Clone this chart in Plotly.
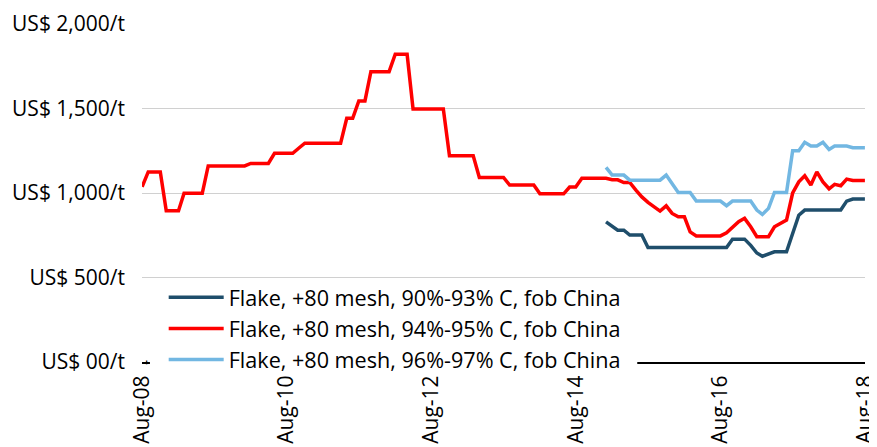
import pandas as pd
import plotly.graph_objects as go

# Monthly dates
dates_all = pd.date_range("2008-08-01", periods=121, freq="MS")
dates_late = pd.date_range("2015-01-01", periods=44, freq="MS")

red_94_95 = [
    1037, 1125, 1125, 1125, 895, 895, 895, 998, 998, 998,
    998, 1160, 1160, 1160, 1160, 1160, 1160, 1160, 1175, 1175,
    1175, 1175, 1235, 1235, 1235, 1235, 1265, 1295, 1295, 1295,
    1295, 1295, 1295, 1295, 1442, 1442, 1545, 1545, 1718, 1718,
    1718, 1718, 1821, 1821, 1821, 1497, 1497, 1497, 1497, 1497,
    1497, 1220, 1220, 1220, 1220, 1220, 1092, 1092, 1092, 1092,
    1092, 1047, 1047, 1047, 1047, 1047, 995, 995, 995, 995,
    995, 1035, 1035, 1087, 1087, 1087, 1087, 1087, 1078, 1078,
    1062, 1062, 1017, 977, 945, 918, 893, 924, 879, 859,
    859, 770, 746, 746, 746, 746, 746, 764, 800, 830,
    850, 800, 741, 741, 741, 800, 823, 840, 1000, 1066,
    1102, 1047, 1125, 1066, 1025, 1051, 1043, 1082, 1074, 1074, 1074,
]

blue_96_97 = [
    1152, 1106, 1106, 1106, 1076, 1076, 1076, 1076, 1076, 1076,
    1106, 1055, 1003, 1003, 1003, 952, 952, 952, 952, 952,
    925, 952, 952, 952, 952, 899, 873, 909, 1003, 1003,
    1003, 1250, 1250, 1300, 1278, 1278, 1300, 1258, 1278, 1278,
    1278, 1268, 1268, 1268,
]

navy_90_93 = [
    829, 805, 780, 780, 751, 751, 751, 678, 678, 678,
    678, 678, 678, 678, 678, 678, 678, 678, 678, 678,
    678, 727, 727, 727, 690, 645, 626, 640, 652, 652,
    652, 760, 869, 899, 899, 899, 899, 899, 899, 899,
    952, 964, 964, 964,
]

names = [
    "Flake, +80 mesh, 90%-93% C, fob China",
    "Flake, +80 mesh, 94%-95% C, fob China",
    "Flake, +80 mesh, 96%-97% C, fob China",
]
y_tickvals = [0, 500, 1000, 1500, 2000]
y_ticktext = ["US$ 00/t", "US$ 500/t", "US$ 1,000/t", "US$ 1,500/t", "US$ 2,000/t"]
x_tickvals = ["2008-08-01", "2010-08-01", "2012-08-01", "2014-08-01", "2016-08-01", "2018-08-01"]
x_ticktext = ["Aug-08", "Aug-10", "Aug-12", "Aug-14", "Aug-16", "Aug-18"]

FONT = "Open Sans"

fig = go.Figure()
fig.add_trace(go.Scatter(x=dates_late, y=navy_90_93, mode="lines", name=names[0],
                         line=dict(color="#1F4E6B", width=3.5)))
fig.add_trace(go.Scatter(x=dates_all, y=red_94_95, mode="lines", name=names[1],
                         line=dict(color="#FF0000", width=3.5)))
fig.add_trace(go.Scatter(x=dates_late, y=blue_96_97, mode="lines", name=names[2],
                         line=dict(color="#72B7E2", width=3.5)))

# page body has an 8px margin, so the figure is 8px smaller and offsets are reduced
fig.update_layout(
    width=869, height=439,
    margin=dict(l=134, r=12, t=16, b=85, autoexpand=False),
    paper_bgcolor="white", plot_bgcolor="white",
    font=dict(family=FONT, size=21, color="black"),
    legend=dict(x=0.03, y=0.252, xanchor="left", yanchor="top",
                bgcolor="rgba(0,0,0,0)", font=dict(size=21.6, family=FONT),
                tracegroupgap=0, itemwidth=55),
    showlegend=True,
    # white patch where the legend box hides the baseline in the original
    shapes=[dict(type="rect", xref="paper", yref="paper",
                 x0=0.011, x1=0.685, y0=-0.022, y1=0.03,
                 fillcolor="white", line=dict(width=0), layer="above")],
    annotations=[dict(text="-", x=0.004, y=0, xref="paper", yref="y",
                      showarrow=False, textangle=-90,
                      font=dict(size=16, family=FONT, color="black"),
                      xanchor="center", yanchor="middle")],
)
fig.update_xaxes(
    range=["2008-07-31 12:00", "2018-08-01 12:00"], automargin=False,
    tickvals=x_tickvals, ticktext=x_ticktext, tickangle=-90,
    showgrid=False, showline=True, linecolor="black", linewidth=2,
    ticks="", tickfont=dict(size=21, family=FONT), zeroline=False,
    ticklabelstandoff=3, ticklabeloverflow="allow",
)
fig.update_yaxes(
    range=[0, 2000], tickvals=y_tickvals, ticktext=y_ticktext, automargin=False,
    showgrid=True, gridcolor="#D0D0D0", gridwidth=1, zeroline=False,
    showline=False, ticks="", ticklabelstandoff=16,
    tickfont=dict(size=21, family=FONT),
)

fig.write_html("out.html")
